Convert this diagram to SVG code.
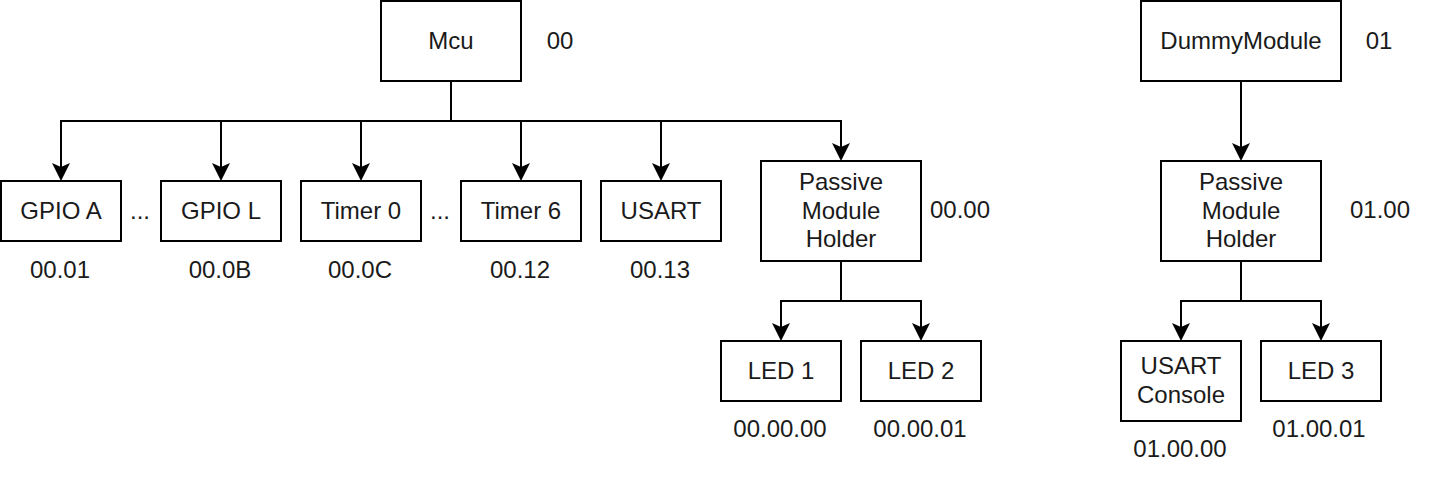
<svg xmlns="http://www.w3.org/2000/svg" width="1442" height="482" viewBox="0 0 1442 482">
<style>
.box{fill:#fff;stroke:#000;stroke-width:2}
.t{font-family:"Liberation Sans",Arial,sans-serif;font-size:24px;fill:#1a1a1a;text-anchor:middle}
.c{fill:none;stroke:#000;stroke-width:2;marker-end:url(#arr)}
.l{fill:none;stroke:#000;stroke-width:2}
</style>
<defs>
<marker id="arr" markerUnits="userSpaceOnUse" markerWidth="20" markerHeight="20" viewBox="0 -10 20 20" refX="4" refY="0" orient="auto" overflow="visible">
<path d="M0,-9 L18,0 L0,9 L4,0 Z" fill="#000"/>
</marker>
</defs>
<rect width="1442" height="482" fill="#fff"/>
<g id="connectors">
<path class="l" d="M451,81 V121"/>
<path class="c" d="M451,121 H61 V167"/>
<path class="c" d="M221,121 V167"/>
<path class="c" d="M361,121 V167"/>
<path class="c" d="M451,121 H841 V147"/>
<path class="c" d="M521,121 V167"/>
<path class="c" d="M661,121 V167"/>
<path class="c" d="M841,261 V301 H781 V327"/>
<path class="c" d="M841,301 H921 V327"/>
<path class="c" d="M1241,81 V147"/>
<path class="c" d="M1241,261 V301 H1181 V327"/>
<path class="c" d="M1241,301 H1321 V327"/>
</g>
<g id="mcu"><rect class="box" x="381" y="1" width="140" height="80"/><text class="t" x="451" y="49">Mcu</text></g>
<g id="gpioa"><rect class="box" x="1" y="181" width="120" height="60"/><text class="t" x="61" y="218.5">GPIO A</text></g>
<g id="gpiol"><rect class="box" x="161" y="181" width="120" height="60"/><text class="t" x="221" y="218.5">GPIO L</text></g>
<g id="timer0"><rect class="box" x="301" y="181" width="120" height="60"/><text class="t" x="361" y="218.5">Timer 0</text></g>
<g id="timer6"><rect class="box" x="461" y="181" width="120" height="60"/><text class="t" x="521" y="218.5">Timer 6</text></g>
<g id="usart"><rect class="box" x="601" y="181" width="120" height="60"/><text class="t" x="661" y="218.5">USART</text></g>
<g id="pmh0"><rect class="box" x="761" y="161" width="160" height="100"/><text class="t" x="841"><tspan x="841" y="190">Passive</tspan><tspan x="841" y="218.5">Module</tspan><tspan x="841" y="247">Holder</tspan></text></g>
<g id="led1"><rect class="box" x="721" y="341" width="120" height="60"/><text class="t" x="781" y="378.5">LED 1</text></g>
<g id="led2"><rect class="box" x="861" y="341" width="120" height="60"/><text class="t" x="921" y="378.5">LED 2</text></g>
<g id="dummy"><rect class="box" x="1141" y="1" width="200" height="80"/><text class="t" x="1241" y="49">DummyModule</text></g>
<g id="pmh1"><rect class="box" x="1161" y="161" width="160" height="100"/><text class="t" x="1241"><tspan x="1241" y="190">Passive</tspan><tspan x="1241" y="218.5">Module</tspan><tspan x="1241" y="247">Holder</tspan></text></g>
<g id="usartconsole"><rect class="box" x="1121" y="341" width="120" height="80"/><text class="t" x="1181"><tspan x="1181" y="374">USART</tspan><tspan x="1181" y="403">Console</tspan></text></g>
<g id="led3"><rect class="box" x="1261" y="341" width="120" height="60"/><text class="t" x="1321" y="378.5">LED 3</text></g>
<g id="labels">
<text class="t" x="560" y="48.5">00</text>
<text class="t" x="140" y="218.5">...</text>
<text class="t" x="440" y="218.5">...</text>
<text class="t" x="60" y="277.5">00.01</text>
<text class="t" x="220" y="277.5">00.0B</text>
<text class="t" x="360" y="277.5">00.0C</text>
<text class="t" x="520" y="277.5">00.12</text>
<text class="t" x="660" y="277.5">00.13</text>
<text class="t" x="960" y="218">00.00</text>
<text class="t" x="780" y="437">00.00.00</text>
<text class="t" x="920" y="437">00.00.01</text>
<text class="t" x="1379" y="48.5">01</text>
<text class="t" x="1380" y="218">01.00</text>
<text class="t" x="1180" y="457">01.00.00</text>
<text class="t" x="1319" y="437">01.00.01</text>
</g>
</svg>
